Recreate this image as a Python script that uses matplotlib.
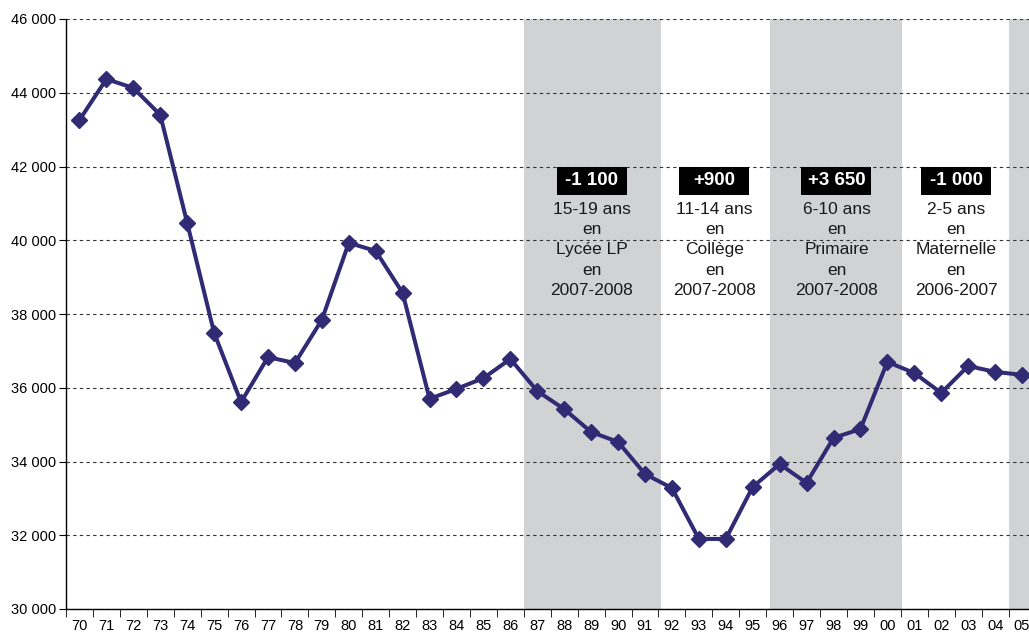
import matplotlib.pyplot as plt
from matplotlib.patches import Rectangle
from matplotlib.ticker import FuncFormatter, FixedLocator

YEARS = ["70", "71", "72", "73", "74", "75", "76", "77", "78", "79",
         "80", "81", "82", "83", "84", "85", "86", "87", "88", "89",
         "90", "91", "92", "93", "94", "95", "96", "97", "98", "99",
         "00", "01", "02", "03", "04", "05"]
BIRTHS = [43260, 44370, 44130, 43400, 40470, 37490, 35610, 36830, 36670, 37840,
          39930, 39710, 38570, 35700, 35970, 36260, 36780, 35910, 35420, 34800,
          34530, 33660, 33280, 31900, 31900, 33310, 33930, 33420, 34640, 34880,
          36700, 36400, 35860, 36590, 36430, 36350]

# shaded periods (in category index units)
BANDS = [(16.5, 21.6), (25.65, 30.55), (34.5, 36.0)]

DELTAS = ["-1 100", "+900", "+3 650", "-1 000"]
NOTES = ["15-19 ans\nen\nLycée LP\nen\n2007-2008",
         "11-14 ans\nen\nCollège\nen\n2007-2008",
         "6-10 ans\nen\nPrimaire\nen\n2007-2008",
         "2-5 ans\nen\nMaternelle\nen\n2006-2007"]
NOTE_X = [19.03, 23.58, 28.11, 32.55]

plt.rcParams["font.family"] = ["Liberation Sans", "DejaVu Sans"]

fig = plt.figure(figsize=(10.29, 6.34), dpi=100)
ax = fig.add_axes([66 / 1029, 25 / 634, 1 - 66 / 1029, 590 / 634])

x = list(range(len(YEARS)))

for a, b in BANDS:
    ax.axvspan(a, b, color="#d1d2d4", lw=0, zorder=0)

ax.plot(x, BIRTHS, color="#312a74", lw=2.9, marker="D", ms=8.5,
        mec="#312a74", mfc="#312a74", zorder=3)

ax.set_xlim(-0.5, -0.5 + (1029 - 66) / 26.93)
ax.set_ylim(30000, 46000)
ax.set_yticks(range(30000, 46001, 2000))
ax.yaxis.set_major_formatter(FuncFormatter(lambda v, p: f"{int(v):,}".replace(",", " ")))
ax.grid(axis="y", ls=(0, (3, 3)), color="#333333", lw=0.8)
ax.set_axisbelow(True)

ax.set_xticks(x)
ax.set_xticklabels(YEARS)
ax.xaxis.set_minor_locator(FixedLocator([i - 0.5 for i in range(len(YEARS) + 1)]))
ax.tick_params(axis="x", which="major", length=0, pad=7.5, labelsize=10.5)
ax.tick_params(axis="x", which="minor", length=6, direction="out")
ax.tick_params(axis="y", length=5, labelsize=10.5, pad=2)

for s in ["top", "right"]:
    ax.spines[s].set_visible(False)
ax.spines["left"].set_linewidth(1.0)
ax.spines["bottom"].set_linewidth(1.0)

# annotation boxes
box_w = 70 / 26.93
box_h = 28 / 0.036875
box_yc = 41620
for xc, d, note in zip(NOTE_X, DELTAS, NOTES):
    ax.add_patch(Rectangle((xc - box_w / 2, box_yc - box_h / 2), box_w, box_h,
                           facecolor="black", edgecolor="none", zorder=4))
    ax.text(xc, box_yc, d, color="white", fontsize=13.5, fontweight="bold",
            ha="center", va="center", zorder=5)
    ax.text(xc, 39736, note, color="#1a1a1a", fontsize=12.5, ha="center",
            va="center", linespacing=1.42, zorder=5)

fig.savefig("out.png", dpi=100)
